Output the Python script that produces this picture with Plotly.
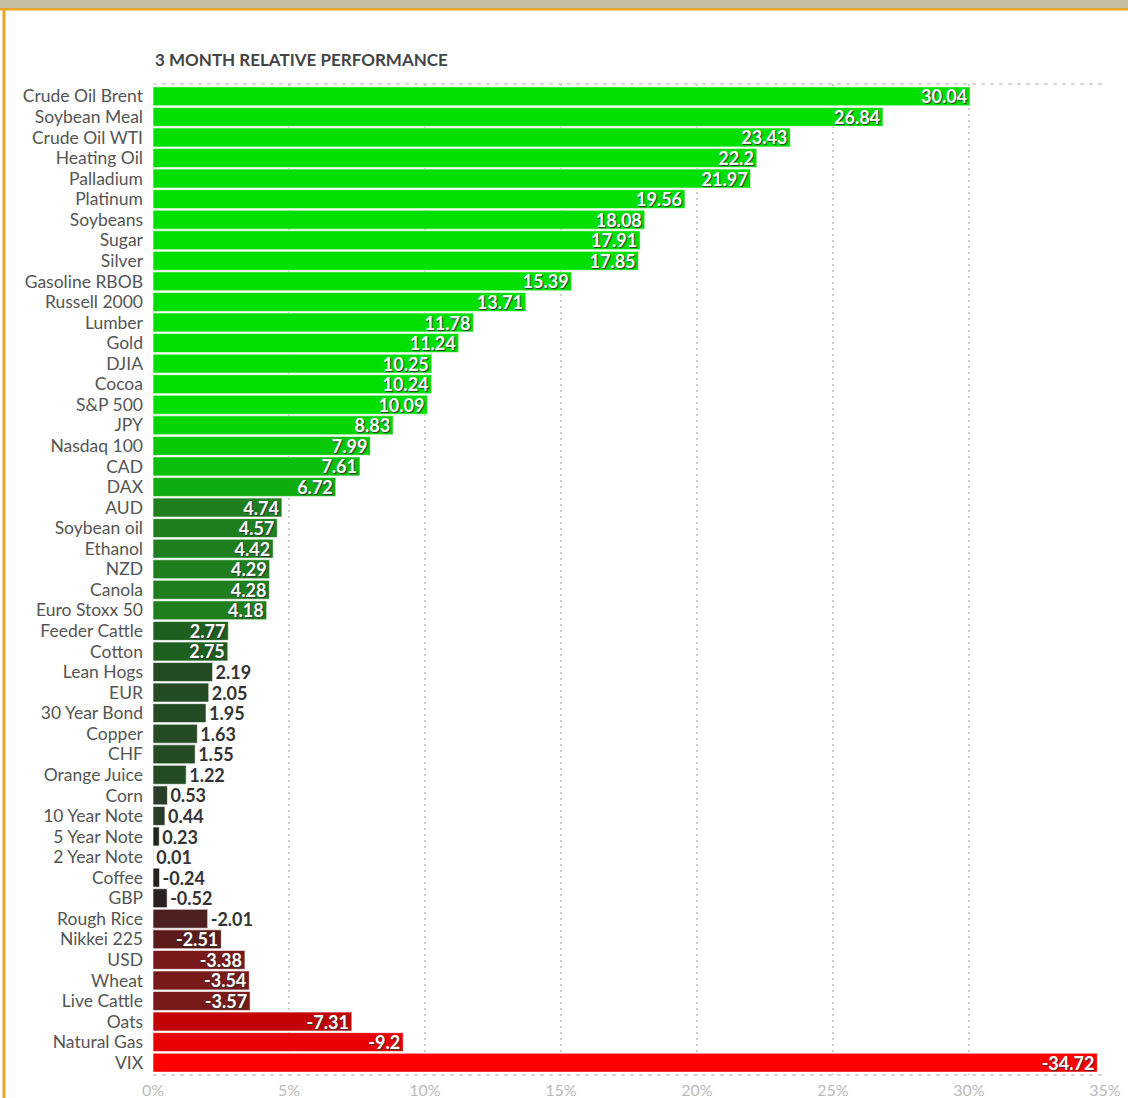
import plotly.graph_objects as go

categories = [
    "Crude Oil Brent", "Soybean Meal", "Crude Oil WTI", "Heating Oil", "Palladium",
    "Platinum", "Soybeans", "Sugar", "Silver", "Gasoline RBOB", "Russell 2000",
    "Lumber", "Gold", "DJIA", "Cocoa", "S&P 500", "JPY", "Nasdaq 100", "CAD", "DAX",
    "AUD", "Soybean oil", "Ethanol", "NZD", "Canola", "Euro Stoxx 50",
    "Feeder Cattle", "Cotton", "Lean Hogs", "EUR", "30 Year Bond", "Copper", "CHF",
    "Orange Juice", "Corn", "10 Year Note", "5 Year Note", "2 Year Note", "Coffee",
    "GBP", "Rough Rice", "Nikkei 225", "USD", "Wheat", "Live Cattle", "Oats",
    "Natural Gas", "VIX",
]
values = [
    30.04, 26.84, 23.43, 22.2, 21.97, 19.56, 18.08, 17.91, 17.85, 15.39, 13.71,
    11.78, 11.24, 10.25, 10.24, 10.09, 8.83, 7.99, 7.61, 6.72, 4.74, 4.57, 4.42,
    4.29, 4.28, 4.18, 2.77, 2.75, 2.19, 2.05, 1.95, 1.63, 1.55, 1.22, 0.53, 0.44,
    0.23, 0.01, -0.24, -0.52, -2.01, -2.51, -3.38, -3.54, -3.57, -7.31, -9.2, -34.72,
]
x_ticks = [0, 5, 10, 15, 20, 25, 30, 35]
x_tick_labels = ["0%", "5%", "10%", "15%", "20%", "25%", "30%", "35%"]
title_text = "3 MONTH RELATIVE PERFORMANCE"


def bar_color(v):
    if v >= 10:
        return "#00e000"
    if v >= 8.5:
        return "#04d504"
    if v >= 7.8:
        return "#08c808"
    if v >= 7:
        return "#0bbf0b"
    if v >= 6:
        return "#10ad10"
    if v >= 4:
        return "#1f7f1f"
    if v >= 2.5:
        return "#1d5f1d"
    if v >= 1:
        return "#254b25"
    if v >= 0.3:
        return "#2a3c2a"
    if v >= 0:
        return "#1d261d"
    if v > -1:
        return "#2b2020"
    if v > -2.3:
        return "#4e1f1f"
    if v > -3:
        return "#5c1a1a"
    if v > -5:
        return "#781a1a"
    if v > -8:
        return "#c40404"
    if v > -20:
        return "#e80000"
    return "#ff0000"


colors = [bar_color(v) for v in values]
lengths = [abs(v) for v in values]
texts = [str(v) for v in values]
positions = ["inside" if abs(v) >= 2.5 else "outside" for v in values]

W, H = 1128, 1098
L, R, T, B = 153, 23, 84, 23
pw, ph = W - L - R, H - T - B


def px_x(p):
    return (p - L) / pw


def px_y(p):
    return 1 - (p - T) / ph


fig = go.Figure()
fig.add_trace(go.Bar(
    x=lengths,
    y=categories,
    orientation="h",
    marker=dict(color=colors, line=dict(color="rgba(255,255,255,0.6)", width=1)),
    text=texts,
    textposition=positions,
    insidetextanchor="end",
    constraintext="none",
    insidetextfont=dict(family="Lato", size=18, color="#ffffff", weight="bold",
                        shadow="1px 1px 1px #333"),
    outsidetextfont=dict(family="Lato", size=18, color="#333333", weight="bold"),
    cliponaxis=False,
    hoverinfo="skip",
))

shapes = [
    dict(type="line", xref="paper", yref="paper", x0=0, x1=1, y0=1, y1=1,
         line=dict(color="#cccccc", width=1.5, dash="4px,5px")),
    dict(type="line", xref="paper", yref="paper", x0=0, x1=1, y0=0, y1=0,
         line=dict(color="#cccccc", width=1.5, dash="4px,5px")),
    dict(type="rect", xref="paper", yref="paper", x0=px_x(0), x1=px_x(W),
         y0=px_y(8), y1=px_y(0), fillcolor="#c6bca4", line=dict(width=0), layer="above"),
    dict(type="rect", xref="paper", yref="paper", x0=px_x(0), x1=px_x(W),
         y0=px_y(10.5), y1=px_y(8), fillcolor="#eaa52a", line=dict(width=0), layer="above"),
    dict(type="rect", xref="paper", yref="paper", x0=px_x(2.5), x1=px_x(5.5),
         y0=px_y(H), y1=px_y(10), fillcolor="#e9a52a", line=dict(width=0), layer="above"),
]

fig.add_annotation(
    text=title_text, xref="paper", yref="paper", x=0, y=px_y(59),
    xanchor="left", yanchor="middle", showarrow=False,
    font=dict(family="Lato", size=17, color="#444444", weight="bold"),
)

fig.update_layout(
    width=W, height=H,
    margin=dict(l=L, r=R, t=T, b=B, pad=0, autoexpand=False),
    paper_bgcolor="white", plot_bgcolor="white",
    showlegend=False,
    bargap=0.08,
    shapes=shapes,
    xaxis=dict(
        range=[0, 35], tickvals=x_ticks, ticktext=x_tick_labels,
        showgrid=True, gridcolor="#cccccc", gridwidth=1.5, griddash="2px,4px",
        zeroline=False, showline=False, ticks="", automargin=False,
        ticklabelstandoff=4,
        tickfont=dict(family="Lato", size=16, color="#bbbbbb"),
        fixedrange=True,
    ),
    yaxis=dict(
        range=[47.6, -0.6], showgrid=False, zeroline=False, showline=False,
        tickmode="array", tickvals=categories, ticktext=categories,
        ticks="", ticklabelstandoff=9, automargin=False,
        tickfont=dict(family="Lato", size=17.5, color="#555555"),
        fixedrange=True,
    ),
)

fig.write_html(
    "out.html",
    config={"displayModeBar": False},
    post_script="document.body.style.margin='0';document.body.style.overflow='hidden';",
)
